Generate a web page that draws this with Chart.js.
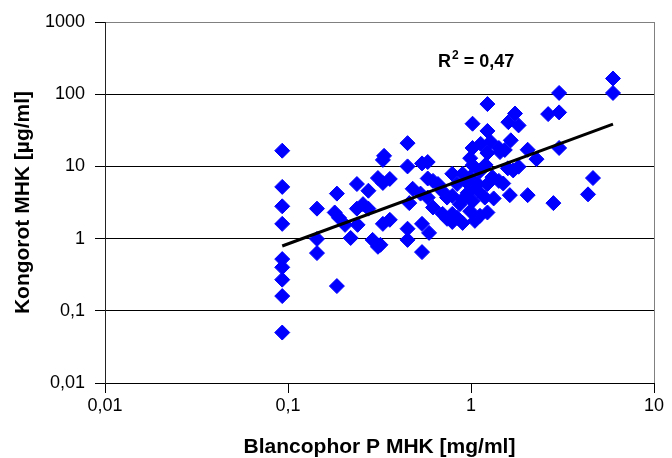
<!DOCTYPE html>
<html>
<head>
<meta charset="utf-8">
<script src="https://cdn.jsdelivr.net/npm/chart.js@4/dist/chart.umd.min.js"></script>
<style>
    body { margin: 0; background: #fff; }
    canvas { display: block; }
</style>
</head>
<body>
<canvas id="mhkChart" width="672" height="458"></canvas>
<script>
// Blancophor P MHK [mg/ml]
const blancophor = [
    0.093, 0.093, 0.093, 0.093, 0.093, 0.093, 0.093, 0.093, 0.093,
    0.144, 0.144, 0.144, 0.185, 0.18, 0.19, 0.185, 0.205, 0.22,
    0.238, 0.238, 0.24, 0.257, 0.275, 0.275, 0.29, 0.31, 0.31,
    0.33, 0.335, 0.33, 0.36, 0.33, 0.36, 0.32,
    0.45, 0.45, 0.46, 0.45, 0.45, 0.48, 0.54, 0.58, 0.53, 0.58,
    0.54, 0.54, 0.59, 0.58, 0.62, 0.66, 0.70, 0.74, 0.62, 0.70,
    0.74, 0.79, 0.79, 0.79, 0.79, 0.84, 0.87, 0.84, 0.90, 0.90,
    0.90, 0.96, 0.96, 0.99, 0.99, 0.99, 0.99, 1.02, 1.02, 1.05,
    1.02, 1.02, 1.13, 1.09, 1.09, 1.12, 1.12, 1.23, 1.23, 1.23,
    1.2, 1.23, 1.19, 1.23, 1.28, 1.31, 1.33, 1.42, 1.44, 1.42,
    1.5, 1.53, 1.6, 1.65, 1.59, 1.7, 1.82, 1.63, 2.04, 1.74,
    1.82, 2.04, 2.28, 2.64, 3.03, 3.03, 3.03, 2.82, 4.36, 4.64,
    5.97, 5.97
];
// Kongorot MHK [µg/ml]
const kongorot = [
    16.5, 5.2, 2.8, 1.6, 0.52, 0.40, 0.27, 0.16, 0.05,
    2.6, 0.99, 0.63, 4.2, 2.3, 1.94, 0.22, 1.55, 1.02,
    5.7, 2.6, 1.55, 3.0, 4.6, 2.6, 0.96, 0.77, 6.9,
    12.3, 14, 5.9, 6.7, 1.6, 1.82, 0.82,
    21, 10, 3.1, 1.37, 0.96, 4.9, 11, 11.5, 4.2, 3.7,
    1.6, 0.65, 1.2, 6.8, 6.3, 5.7, 4.5, 3.7, 2.7, 2.2,
    1.88, 1.7, 7.9, 3.9, 2.2, 5.7, 3.0, 1.94, 7.9, 3.5,
    1.65, 5.9, 4.3, 7.1, 5.4, 2.4, 13, 18, 39, 1.76,
    3.3, 10.4, 20.5, 5.7, 4.6, 8.6, 2.07, 73, 31, 15.3,
    10.5, 5.7, 3.7, 2.3, 22, 7.1, 3.6, 18, 15.8, 6.3,
    5.8, 16.9, 41, 23, 9.4, 8.8, 9.9, 4.0, 4.0, 54,
    37, 17, 12.6, 53, 56, 104, 18, 3.1, 4.1, 6.9,
    104, 165
];

// trend line ends
const trendX = [0.093, 5.97];
const trendY = [0.79, 38.6];

const xTicks = [0.01, 0.1, 1, 10];
const yTicks = [0.01, 0.1, 1, 10, 100, 1000];

const r2Text = 'R';
const r2Sup = '2';
const r2Rest = ' = 0,47';
const r2At = { x: 0.66, y: 282 };

const fontFamily = '"Liberation Sans", Arial, sans-serif';

document.addEventListener('DOMContentLoaded', function() {
    const points = blancophor.map((x, i) => ({ x: x, y: kongorot[i] }));
    const trend = trendX.map((x, i) => ({ x: x, y: trendY[i] }));

    const decimalComma = value => String(value).replace('.', ',');

    const r2Label = {
        id: 'r2Label',
        afterDatasetsDraw(chart) {
            const { ctx, scales } = chart;
            let px = scales.x.getPixelForValue(r2At.x);
            const py = scales.y.getPixelForValue(r2At.y);
            ctx.save();
            ctx.fillStyle = '#000';
            ctx.textAlign = 'left';
            ctx.textBaseline = 'middle';
            ctx.font = 'bold 18px ' + fontFamily;
            ctx.fillText(r2Text, px, py);
            px += ctx.measureText(r2Text).width + 1;
            ctx.font = 'bold 12px ' + fontFamily;
            ctx.fillText(r2Sup, px, py - 6);
            px += ctx.measureText(r2Sup).width;
            ctx.font = 'bold 18px ' + fontFamily;
            ctx.fillText(r2Rest, px, py);
            ctx.restore();
        }
    };

    // grey frame on the right side of the plot
    const rightFrame = {
        id: 'rightFrame',
        afterDraw(chart) {
            const { ctx, chartArea } = chart;
            ctx.save();
            ctx.strokeStyle = '#808080';
            ctx.lineWidth = 1;
            ctx.beginPath();
            ctx.moveTo(Math.round(chartArea.right) + 0.5, chartArea.top);
            ctx.lineTo(Math.round(chartArea.right) + 0.5, chartArea.bottom);
            ctx.stroke();
            ctx.restore();
        }
    };

    const ctx = document.getElementById('mhkChart').getContext('2d');
    new Chart(ctx, {
        type: 'scatter',
        data: {
            datasets: [{
                label: 'MHK',
                data: points,
                pointStyle: 'rectRot',
                pointRadius: 7.5,
                pointHoverRadius: 7.5,
                backgroundColor: '#0000ff',
                borderColor: '#0000ff',
                borderWidth: 1,
                order: 2
            }, {
                type: 'line',
                label: 'Trend',
                data: trend,
                borderColor: '#000',
                borderWidth: 3,
                pointRadius: 0,
                fill: false,
                order: 1
            }]
        },
        options: {
            responsive: false,
            animation: false,
            layout: { padding: { top: 22, right: 18, bottom: 0, left: 0 } },
            plugins: {
                legend: { display: false },
                tooltip: { enabled: false }
            },
            scales: {
                x: {
                    type: 'logarithmic',
                    min: 0.01,
                    max: 10,
                    afterBuildTicks: scale => { scale.ticks = xTicks.map(v => ({ value: v })); },
                    afterFit: scale => { scale.height = 75; },
                    grid: {
                        drawOnChartArea: false,
                        drawTicks: true,
                        tickLength: 10,
                        tickColor: '#000'
                    },
                    border: { display: true, color: '#000', width: 1 },
                    ticks: {
                        callback: decimalComma,
                        color: '#000',
                        padding: 2,
                        maxRotation: 0,
                        autoSkip: false,
                        font: { family: fontFamily, size: 18 }
                    },
                    title: {
                        display: true,
                        text: 'Blancophor P MHK [mg/ml]',
                        color: '#000',
                        padding: { top: 0, bottom: 0 },
                        font: { family: fontFamily, size: 21, weight: 'bold', lineHeight: 1 }
                    }
                },
                y: {
                    type: 'logarithmic',
                    min: 0.01,
                    max: 1000,
                    afterBuildTicks: scale => { scale.ticks = yTicks.map(v => ({ value: v })); },
                    afterFit: scale => { scale.width = 105; },
                    grid: {
                        color: c => (c.tick && c.tick.value === 1000) ? '#808080' : '#000',
                        lineWidth: 1,
                        drawTicks: true,
                        tickLength: 10,
                        tickColor: '#000'
                    },
                    border: { display: true, color: '#222', width: 1 },
                    ticks: {
                        callback: decimalComma,
                        color: '#000',
                        padding: 10,
                        autoSkip: false,
                        font: { family: fontFamily, size: 18 }
                    },
                    title: {
                        display: true,
                        text: 'Kongorot MHK [µg/ml]',
                        color: '#000',
                        padding: { top: 13, bottom: 0 },
                        font: { family: fontFamily, size: 21, weight: 'bold', lineHeight: 1 }
                    }
                }
            }
        },
        plugins: [r2Label, rightFrame]
    });
});
</script>
</body>
</html>
